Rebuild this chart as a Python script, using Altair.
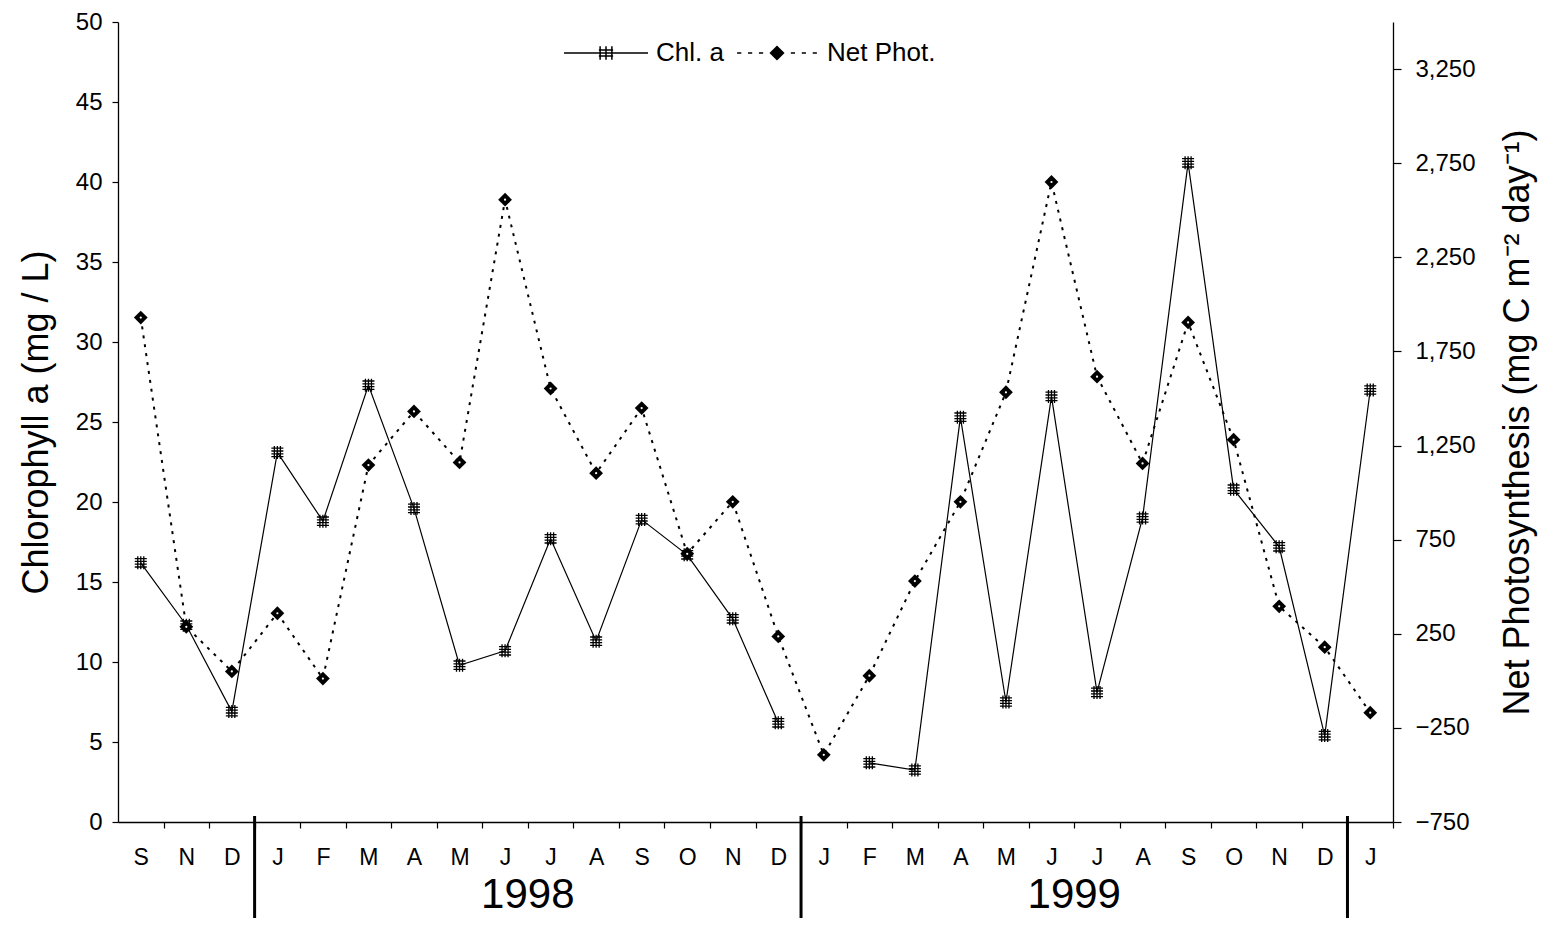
import altair as alt
import pandas as pd

# ---------------- data ----------------
months = ["S", "N", "D", "J", "F", "M", "A", "M", "J", "J", "A", "S", "O", "N",
          "D", "J", "F", "M", "A", "M", "J", "J", "A", "S", "O", "N", "D", "J"]
chl_a = [16.2, 12.3, 6.9, 23.1, 18.8, 27.3, 19.6, 9.8, 10.7, 17.7, 11.3, 18.9,
         16.7, 12.7, 6.2, None, 3.7, 3.25, 25.3, 7.5, 26.6, 8.1, 19.0, 41.2,
         20.8, 17.2, 5.4, 27.0]
net_phot = [1930, 287, 50, 359, 12, 1146, 1431, 1160, 2556, 1553, 1103, 1449,
            675, 951, 236, -393, 27, 530, 951, 1533, 2650, 1616, 1155, 1904,
            1281, 396, 179, -169]
years = ["1998", "1999"]
series = ["Chl. a", "Net Phot."]
left_ticks = list(range(0, 51, 5))
right_ticks = [-750, -250, 250, 750, 1250, 1750, 2250, 2750, 3250]

# ---------------- derived tables ----------------
n = len(months)
df = pd.DataFrame({"idx": list(range(n)), "month": months,
                   "chl": chl_a, "net": net_phot})
df["seg"] = df["chl"].isna().cumsum()
chl_df = df.dropna(subset=["chl"])

bounds = [i - 0.5 for i in range(1, n) if months[i] == "J" and months[i - 1] == "D"]
bounds_df = pd.DataFrame({"idx": bounds})
year_df = pd.DataFrame({"year": years,
                        "idx": [(bounds[k] + bounds[k + 1]) / 2 for k in range(len(years))]})

W, H = 1275, 800
FONT = "Liberation Sans"
half_band = W / n / 2

month_str = "".join(months)
x_axis = alt.Axis(
    values=list(range(n)),
    labelExpr="substring('" + month_str + "', datum.value, datum.value + 1)",
    tickOffset=half_band, labelOffset=-half_band,
    tickSize=6, labelPadding=18, labelFontSize=23,
    grid=False, title=None, labelFont=FONT, labelColor="black",
)
X = alt.X("idx:Q", scale=alt.Scale(domain=[-0.5, n - 0.5], nice=False, zero=False),
          axis=x_axis)

HASH = ("M-0.86,-0.6H0.86M-0.86,-0.2H0.86M-0.86,0.2H0.86M-0.86,0.6H0.86"
        "M-0.43,-0.93V0.93M0,-0.93V0.93M0.43,-0.93V0.93")

# ---------------- Chl a ----------------
chl_y = alt.Y("chl:Q", scale=alt.Scale(domain=[0, 50], nice=False),
              axis=alt.Axis(values=left_ticks, tickSize=6, labelFontSize=24,
                            labelPadding=10, title="Chlorophyll a (mg / L)",
                            titleFontSize=36, titlePadding=20, grid=False,
                            titleFontWeight="normal"))
chl_line = alt.Chart(chl_df).mark_line(color="black", strokeWidth=1.2).encode(
    x=X, y=chl_y, detail="seg:N")
chl_pts = alt.Chart(chl_df).mark_point(shape=HASH, filled=False, color="black",
                                       size=196, strokeWidth=1.3, opacity=1).encode(
    x=X, y=chl_y)
chl_group = alt.layer(chl_line, chl_pts)

# ---------------- Net photosynthesis ----------------
np_y = alt.Y("net:Q", scale=alt.Scale(domain=[-750, 3500], nice=False, zero=False),
             axis=alt.Axis(orient="right", values=right_ticks,
                           labelExpr="format(datum.value, ',')",
                           tickSize=8, labelFontSize=24, labelPadding=14,
                           title="Net Photosynthesis (mg C m\u207b\u00b2 day\u207b\u00b9)",
                           titleFontSize=36, titlePadding=25, titleAngle=270,
                           titleBaseline="top", titleFontWeight="normal",
                           grid=False))
np_line = alt.Chart(df).mark_line(color="black", strokeWidth=2,
                                  strokeDash=[3, 6]).encode(x=X, y=np_y)
np_pts = alt.Chart(df).mark_point(shape="diamond", filled=True, color="black",
                                  size=190, opacity=1).encode(x=X, y=np_y)
np_dot = alt.Chart(df).mark_point(shape="circle", filled=True, color="white",
                                  size=5, opacity=1).encode(x=X, y=np_y)
np_group = alt.layer(np_line, np_pts, np_dot)

# ---------------- year separators and labels ----------------
sep = alt.Chart(bounds_df).mark_rule(color="black", strokeWidth=3).encode(
    x=X, y=alt.value(H - 6), y2=alt.value(H + 104))
year_txt = alt.Chart(year_df).mark_text(font=FONT, fontSize=42, color="black",
                                        baseline="alphabetic").encode(
    x=X, y=alt.value(H + 86), text="year:N")

# ---------------- legend ----------------
LEG_CHL = "M-1,0H1M-0.14,-0.16V0.16M0,-0.16V0.16M0.14,-0.16V0.16M-0.17,-0.07H0.17M-0.17,0.07H0.17"
dash = "M-0.95,0H-0.85M-0.69,0H-0.59M-0.43,0H-0.33M0.33,0H0.43M0.59,0H0.69M0.85,0H0.95"
diam = "".join("M-%.3f,0L0,-%.3fL%.3f,0L0,%.3fZ" % (r, r, r, r)
               for r in [0.155, 0.12, 0.085, 0.05, 0.02])
LEG_NP = dash + diam
legend_layer = alt.Chart(pd.DataFrame({"series": series})).transform_filter(
    "false").mark_point(filled=False, color="black", strokeWidth=1.5, opacity=1).encode(
    shape=alt.Shape("series:N",
                    scale=alt.Scale(domain=series, range=[LEG_CHL, LEG_NP]),
                    legend=alt.Legend(orient="none", legendX=445, legendY=-12,
                                      direction="horizontal", title=None,
                                      symbolSize=7056, symbolStrokeWidth=1.5,
                                      symbolStrokeColor="black", symbolOpacity=1,
                                      labelFontSize=26, labelFont=FONT,
                                      labelColor="black", labelOffset=7,
                                      columnPadding=10, padding=0)))

chart = alt.layer(chl_group, np_group, sep, year_txt, legend_layer).resolve_scale(
    y="independent"
).properties(
    width=W, height=H,
    autosize=alt.AutoSizeParams(type="none"),
    padding={"left": 110, "top": 14, "right": 157, "bottom": 96},
    background="white",
).configure_view(stroke=None).configure_axis(
    labelFont=FONT, titleFont=FONT, labelColor="black", titleColor="black",
    titleFontWeight="normal", domainColor="black", tickColor="black",
    domainWidth=1.3, tickWidth=1.2,
)

chart.save("out.html", embed_options={"renderer": "svg", "actions": False})
